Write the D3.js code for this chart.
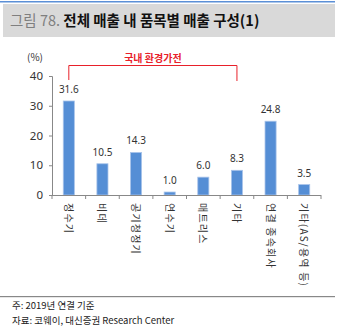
<!DOCTYPE html>
<html><head><meta charset="utf-8">
<script src="https://cdn.jsdelivr.net/npm/d3@7"></script>
<style>body{margin:0;background:#fff;}svg{display:block;font-family:"Noto Sans CJK KR","Noto Sans",sans-serif;}</style>
</head><body>
<script>
const categories = ["정수기","비데","공기청정기","연수기","매트리스","기타","연결 종속회사","기타(AS/용역 등)"];
const values = [31.6,10.5,14.3,1.0,6.0,8.3,24.8,3.5];
const valueLabels = ["31.6","10.5","14.3","1.0","6.0","8.3","24.8","3.5"];
const yTicks = [0,10,20,30,40];

const W=338,H=330;
const svg=d3.select("body").append("svg").attr("width",W).attr("height",H);

// header
svg.append("rect").attr("x",0).attr("y",1).attr("width",335).attr("height",1.5).attr("fill","#5b8fd6");
svg.append("rect").attr("x",3).attr("y",4).attr("width",332).attr("height",33).attr("fill","#d9d9d9");
const t=svg.append("text").attr("x",10).attr("y",26).attr("font-size",14.5);
t.append("tspan").attr("fill","#7f7f7f").text("그림 78. ");
t.append("tspan").attr("fill","#111").attr("font-weight","bold").text("전체 매출 내 품목별 매출 구성(1)");

const x=d3.scaleBand().domain(categories).range([52,321]).paddingInner(0.67).paddingOuter(0.335);
const y=d3.scaleLinear().domain([0,40]).range([195,76]);

svg.append("text").attr("x",35).attr("y",61).attr("text-anchor","middle").attr("font-size",10).attr("fill","#333").text("(%)");

// y axis
const ya=svg.append("g").attr("transform","translate(52,0)")
 .call(d3.axisLeft(y).tickValues(yTicks).tickSize(3).tickPadding(6));
ya.select(".domain").attr("stroke","#888");
ya.selectAll(".tick line").attr("stroke","#888");
ya.selectAll("text").attr("font-size",11.5).attr("fill","#333").attr("font-family","Noto Sans, sans-serif");

// bars
svg.selectAll(".bar").data(values).enter().append("rect")
 .attr("x",(d,i)=>x(categories[i])).attr("width",x.bandwidth())
 .attr("y",d=>y(d)).attr("height",d=>y(0)-y(d))
 .attr("fill","#558ed5").attr("stroke","#a9c4ea").attr("stroke-width",0.8);

svg.selectAll(".vl").data(values).enter().append("text")
 .attr("x",(d,i)=>x(categories[i])+x.bandwidth()/2).attr("y",d=>y(d)-8)
 .attr("text-anchor","middle").attr("font-size",10).attr("fill","#333")
 .attr("font-family","Noto Sans, sans-serif")
 .text((d,i)=>valueLabels[i]);

// x axis
const step=x.step();
svg.append("line").attr("x1",52).attr("x2",321).attr("y1",195.5).attr("y2",195.5).attr("stroke","#888");
const edges=d3.range(categories.length+1).map(i=>52+i*step);
svg.selectAll(".xt").data(edges).enter().append("line")
 .attr("x1",d=>d).attr("x2",d=>d).attr("y1",195).attr("y2",199).attr("stroke","#888");

svg.selectAll(".xl").data(categories).enter().append("text")
 .attr("transform",d=>`translate(${x(d)+x.bandwidth()/2-4},203) rotate(90)`)
 .attr("font-size",10).attr("letter-spacing",1.2).attr("fill","#333").text(d=>d);

// bracket
const bx1=x(categories[0])+x.bandwidth()/2, bx2=x(categories[5])+x.bandwidth()/2;
svg.append("path").attr("d",`M${bx1},80 L${bx1},65.5 L${bx2},65.5 L${bx2},81`)
 .attr("fill","none").attr("stroke","#e8202a").attr("stroke-width",1);
svg.append("text").attr("x",(bx1+bx2)/2).attr("y",62).attr("text-anchor","middle")
 .attr("font-size",10).attr("font-weight","bold").attr("fill","#e8202a").text("국내 환경가전");

// footer
svg.append("rect").attr("x",0).attr("y",296).attr("width",335).attr("height",1.2).attr("fill","#888");
svg.append("text").attr("x",12).attr("y",309).attr("font-size",9.5).attr("fill","#222").text("주: 2019년 연결 기준");
svg.append("text").attr("x",12).attr("y",324).attr("font-size",9.5).attr("fill","#222").text("자료: 코웨이, 대신증권 Research Center");
</script>
</body></html>
